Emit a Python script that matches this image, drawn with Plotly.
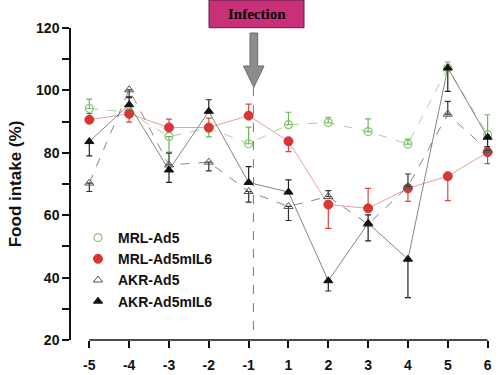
import plotly.graph_objects as go

days = ["-5", "-4", "-3", "-2", "-1", "1", "2", "3", "4", "5", "6"]

mrl_ad5 = [94.2, 93.0, 85.2, 87.9, 82.9, 89.0, 89.7, 86.8, 82.8, 107.2, 85.8]
mrl_ad5_up = [3.0, 0, 0, 0, 5.3, 4.0, 1.7, 4.1, 1.6, 1.9, 6.4]
mrl_ad5_dn = [0, 0, 5.0, 2.8, 0, 0, 0, 0, 0, 0, 0]

mrl_il6 = [90.6, 92.5, 88.1, 88.1, 91.9, 83.7, 63.4, 62.2, 68.6, 72.5, 80.2]
mrl_il6_up = [2.0, 0, 2.7, 3.0, 3.7, 0, 0, 6.4, 0, 0, 0]
mrl_il6_dn = [0, 2.7, 0, 0, 0, 3.3, 7.6, 0, 4.2, 7.8, 3.7]

akr_ad5 = [70.3, 100.2, 76.1, 77.0, 67.6, 62.8, 66.0, 57.1, 69.2, 92.4, 80.8]
akr_ad5_up = [0, 0, 3.8, 0, 0, 0, 1.9, 0, 4.0, 4.1, 0]
akr_ad5_dn = [2.7, 2.5, 0, 2.8, 3.4, 4.5, 0, 0, 0, 0, 0]

akr_il6 = [83.6, 95.4, 74.5, 93.3, 70.5, 67.4, 39.0, 57.4, 45.9, 107.2, 85.0]
akr_il6_up = [0, 2.5, 0, 3.7, 5.1, 3.9, 0, 2.7, 0, 0, 0]
akr_il6_dn = [4.6, 0, 4.0, 0, 0, 0, 3.3, 5.6, 12.3, 7.5, 3.0]

y_ticks = [20, 30, 40, 50, 60, 70, 80, 90, 100, 110, 120]
y_ticktext = ["20", "", "40", "", "60", "", "80", "", "100", "", "120"]

FONT = "Liberation Sans, Arial, sans-serif"

series = [
    dict(name="MRL-Ad5", y=mrl_ad5, up=mrl_ad5_up, dn=mrl_ad5_dn,
         symbol="circle-open", mcolor="#86c676", lcolor="#8cc97e", dash="dash",
         ecolor="#6fb55d", size=8, lw=1.2),
    dict(name="MRL-Ad5mIL6", y=mrl_il6, up=mrl_il6_up, dn=mrl_il6_dn,
         symbol="circle", mcolor="#d93535", lcolor="#d98a86", dash="solid",
         ecolor="#d24a4a", size=9, lw=1),
    dict(name="AKR-Ad5", y=akr_ad5, up=akr_ad5_up, dn=akr_ad5_dn,
         symbol="triangle-up-open", mcolor="#555555", lcolor="#666666", dash="dash",
         ecolor="#333333", size=8, lw=1),
    dict(name="AKR-Ad5mIL6", y=akr_il6, up=akr_il6_up, dn=akr_il6_dn,
         symbol="triangle-up", mcolor="#111111", lcolor="#666666", dash="solid",
         ecolor="#222222", size=8, lw=1),
]

fig = go.Figure()
for s in series:
    fig.add_trace(go.Scatter(
        x=days, y=s["y"], mode="lines+markers", showlegend=False,
        line=dict(color=s["lcolor"], width=0.8, dash=s["dash"]),
        marker=dict(symbol=s["symbol"], size=s["size"], color=s["mcolor"],
                    line=dict(color=s["mcolor"], width=s["lw"])),
        error_y=dict(type="data", symmetric=False, array=s["up"], arrayminus=s["dn"],
                     color=s["ecolor"], thickness=1.2, width=3),
        cliponaxis=False,
    ))
for s in series:
    fig.add_trace(go.Scatter(
        x=[None], y=[None], mode="markers", name=s["name"], showlegend=True,
        marker=dict(symbol=s["symbol"], size=s["size"], color=s["mcolor"],
                    line=dict(color=s["mcolor"], width=s["lw"])),
    ))

x0p, x1p, y0p, y1p = 71, 490, 28, 340
def px(x):
    return (x - x0p) / (x1p - x0p)
def py(y):
    return (y1p - y) / (y1p - y0p)

shapes = [
    dict(type="line", xref="x", yref="paper", x0=0, x1=10, y0=0, y1=0,
         line=dict(color="#111111", width=1.5)),
    dict(type="line", xref="x", yref="y", x0=4.12, x1=4.12, y0=23.2, y1=101.2,
         line=dict(color="#777777", width=1, dash="dash")),
    dict(type="rect", xref="paper", yref="paper", x0=px(209), x1=px(304),
         y0=py(27.7), y1=py(0), fillcolor="#c8307a", line=dict(color="#5a2040", width=1),
         layer="below"),
    dict(type="path", xref="paper", yref="paper",
         path=(f"M {px(250)},{py(33)} L {px(257.7)},{py(33)} L {px(257.7)},{py(66)} "
               f"L {px(264)},{py(66)} L {px(253.8)},{py(87.3)} L {px(243.5)},{py(66)} "
               f"L {px(250)},{py(66)} Z"),
         fillcolor="#8c8c8c", line=dict(color="#6a6a6a", width=1)),
]

fig.update_layout(
    width=500, height=375,
    margin=dict(l=71, r=10, t=28, b=35, autoexpand=False),
    paper_bgcolor="white", plot_bgcolor="white",
    font=dict(family=FONT, color="#111111"),
    shapes=shapes,
    annotations=[dict(text="Infection", xref="paper", yref="paper",
                      x=px(256.5), y=py(14), yanchor="middle", showarrow=False,
                      font=dict(family="Liberation Serif, Times New Roman, serif",
                                size=15, color="#000000", weight="bold"))],
    legend=dict(x=px(78), y=py(222), xanchor="left", yanchor="top",
                bgcolor="rgba(0,0,0,0)", font=dict(size=14, family=FONT, weight="bold"),
                tracegroupgap=0, itemwidth=30),
    xaxis=dict(type="category", range=[-0.46, 10.06], showgrid=False, zeroline=False,
               showline=False, ticks="outside", ticklen=7, tickcolor="#111111",
               tickwidth=1.5, tickfont=dict(size=14, family=FONT, weight="bold"),
               ticklabelstandoff=5, automargin=False),
    yaxis=dict(range=[20, 120], showgrid=False, zeroline=False, showline=True,
               linecolor="#111111", linewidth=1.5, ticks="outside", ticklen=7,
               tickcolor="#111111", tickwidth=1.5, tickvals=y_ticks, ticktext=y_ticktext,
               tickfont=dict(size=14, family=FONT, weight="bold"), automargin=False,
               title=dict(text="Food intake (%)", standoff=10,
                          font=dict(size=17, family=FONT, weight="bold"))),
)

fig.write_html("out.html", config={"displayModeBar": False},
               post_script="document.body.style.margin='0px';")
